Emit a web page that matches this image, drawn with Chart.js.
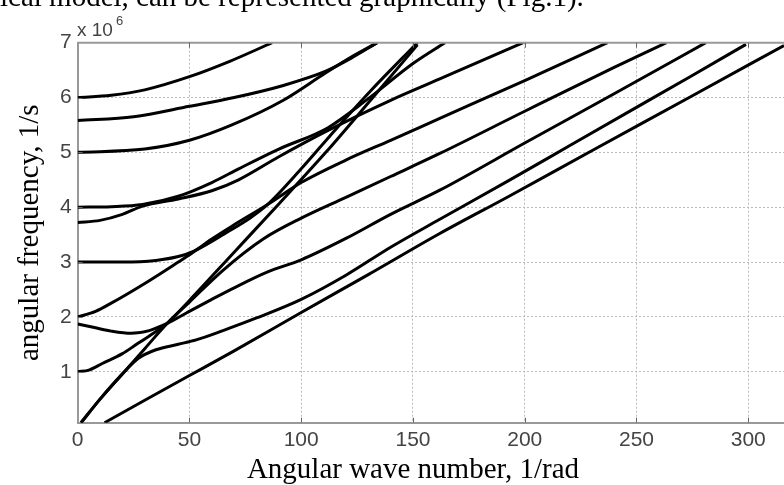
<!DOCTYPE html>
<html>
<head>
<meta charset="utf-8">
<script src="https://cdn.jsdelivr.net/npm/chart.js@4.4.1/dist/chart.umd.min.js"></script>
<style>
  body { margin: 0; background: #fff; }
  #wrap { width: 784px; height: 485px; }
</style>
</head>
<body>
<div id="wrap"><canvas id="dispChart" width="784" height="485"></canvas></div>
<script>
// [wave number k (1/rad), angular frequency (x 10^6 1/s)]
const mode60 = [[0,6.0],[15,6.04],[30,6.14],[50,6.38],[68,6.66],[87,7.0]];
const mode56 = [[0,5.58],[25,5.65],[50,5.84],[70,6.0],[92,6.22],[111,6.48],[122,6.71],[134,7.0]];
const mode50 = [[0,5.0],[30,5.06],[50,5.22],[69,5.5],[92,5.95],[111,6.45],[122,6.73],[134,7.0]];
const mode40 = [[0,4.0],[15,4.01],[29,4.05],[45,4.2],[60,4.45],[72,4.7],[90,5.06],[112,5.45],[130,5.98],[150,6.62],[164.3,7.0]];
const mode37 = [[0,3.72],[10,3.76],[20,3.87],[29,4.02],[45,4.15],[60,4.3],[72,4.5],[90,4.92],[112,5.4],[140,5.95],[162,6.34],[180,6.66],[199.3,7.0]];
const mode30 = [[0,3.0],[20,3.0],[35,3.03],[45,3.1],[52,3.2],[67,3.55],[77,3.8],[85,4.05],[100,4.7],[115,5.4],[131,6.12],[152,7.0]];
const mode20 = [[0,2.0],[8,2.1],[15,2.25],[30,2.61],[45,3.0],[51,3.16],[60,3.42],[70,3.68],[85,4.05],[100,4.45],[120,4.86],[140,5.22],[162,5.62],[200,6.31],[237,7.0]];
const mode185 = [[0,1.87],[8,1.8],[15,1.74],[24,1.7],[32,1.75],[40,1.88],[49,2.08],[60,2.32],[70,2.53],[85,2.82],[100,3.04],[120,3.43],[140,3.87],[162,4.31],[200,5.17],[240,6.07],[281,7.0]];
const mode10 = [[0,1.0],[5,1.03],[11,1.15],[20,1.33],[26,1.49],[33,1.68],[40,1.88],[50,2.3],[70,3.18],[90,4.06],[111,5.0],[131,5.95],[152,6.96]];
const modeOrigA = [[1.5,0.07],[10,0.5],[20,0.96],[30,1.42],[40,1.88],[50,2.27],[65,2.85],[83,3.42],[100,3.8],[120,4.18],[140,4.56],[162,4.98],[200,5.75],[240,6.55],[263.4,7.0]];
const modeOrigB = [[1.5,0.07],[10,0.5],[20,0.96],[27,1.24],[35,1.4],[45,1.5],[53,1.58],[65,1.75],[80,1.98],[100,2.32],[120,2.76],[140,3.27],[162,3.78],[193,4.49],[220,5.12],[250,5.82],[274,6.38],[299,6.97]];
const modeLow = [[12,0.07],[30,0.48],[50,0.93],[70,1.38],[100,2.08],[130,2.77],[162,3.52],[193,4.2],[230,5.03],[274,6.01],[316,6.95]];

const curves = [mode60, mode56, mode50, mode40, mode37, mode30, mode20, mode185, mode10, modeOrigA, modeOrigB, modeLow];

const xTicks = [0, 50, 100, 150, 200, 250, 300];
const yTicks = [1, 2, 3, 4, 5, 6, 7];

const datasets = curves.map(c => ({
    data: c.map(p => ({ x: p[0], y: p[1] })),
    borderColor: '#000',
    borderWidth: 3,
    pointRadius: 0,
    fill: false,
    cubicInterpolationMode: 'monotone'
}));

// extra texts + frame bits drawn after the chart
const extras = {
    id: 'extras',
    afterDraw(chart) {
        const { ctx, chartArea: a, scales: { x, y } } = chart;
        ctx.save();
        // top frame line
        ctx.strokeStyle = '#999';
        ctx.lineWidth = 2;
        ctx.beginPath();
        ctx.moveTo(a.left, a.top);
        ctx.lineTo(a.right, a.top);
        ctx.stroke();
        // inner tick marks
        ctx.strokeStyle = '#666';
        ctx.lineWidth = 1;
        ctx.beginPath();
        xTicks.slice(1).forEach(v => {
            const px = Math.round(x.getPixelForValue(v)) + 0.5;
            ctx.moveTo(px, a.bottom); ctx.lineTo(px, a.bottom - 5);
            ctx.moveTo(px, a.top); ctx.lineTo(px, a.top + 5);
        });
        yTicks.slice(0, -1).forEach(v => {
            const py = Math.round(y.getPixelForValue(v)) + 0.5;
            ctx.moveTo(a.left, py); ctx.lineTo(a.left + 5, py);
        });
        ctx.stroke();
        // exponent label
        ctx.fillStyle = '#444';
        ctx.textBaseline = 'alphabetic';
        ctx.textAlign = 'left';
        ctx.font = '19px "Liberation Sans"';
        ctx.fillText('x 10', 77, 36);
        ctx.font = '13px "Liberation Sans"';
        ctx.fillText('6', 116, 25);
        // x axis title
        ctx.fillStyle = '#000';
        ctx.font = '29px "Liberation Serif"';
        ctx.textAlign = 'center';
        ctx.fillText('Angular wave number, 1/rad', 413, 478);
        // cut-off line of the page text above the figure
        ctx.textAlign = 'left';
        ctx.fillText('ical model, can be represented graphically (Fig.1).', 0, 6);
        ctx.restore();
    }
};

const ctx = document.getElementById('dispChart').getContext('2d');
const dispChart = new Chart(ctx, {
    type: 'line',
    data: { datasets },
    options: {
        responsive: false,
        animation: false,
        devicePixelRatio: 1,
        layout: { padding: { left: 0, right: 0, top: 42.7, bottom: 0 } },
        plugins: { legend: { display: false }, tooltip: { enabled: false } },
        scales: {
            x: {
                type: 'linear',
                min: 0,
                max: 316,
                afterBuildTicks: s => { s.ticks = xTicks.map(v => ({ value: v })); },
                afterFit: s => { s.height = 62.3; },
                grid: { color: '#bbb', lineWidth: 1, drawTicks: false },
                border: { color: '#999', width: 2, dash: [2, 2] },
                ticks: { color: '#444', font: { family: 'Liberation Sans', size: 21 }, padding: 5 }
            },
            y: {
                type: 'linear',
                min: 0.07,
                max: 7,
                afterBuildTicks: s => { s.ticks = yTicks.map(v => ({ value: v })); },
                afterFit: s => { s.width = 77.7; },
                grid: { color: '#bbb', lineWidth: 1, drawTicks: false },
                border: { color: '#999', width: 2, dash: [2, 2] },
                ticks: { color: '#444', font: { family: 'Liberation Sans', size: 21 }, padding: 6 },
                title: {
                    display: true,
                    text: 'angular frequency, 1/s',
                    color: '#000',
                    font: { family: 'Liberation Serif', size: 29 },
                    padding: { top: 13, bottom: 0 }
                }
            }
        }
    },
    plugins: [extras]
});
</script>
</body>
</html>
